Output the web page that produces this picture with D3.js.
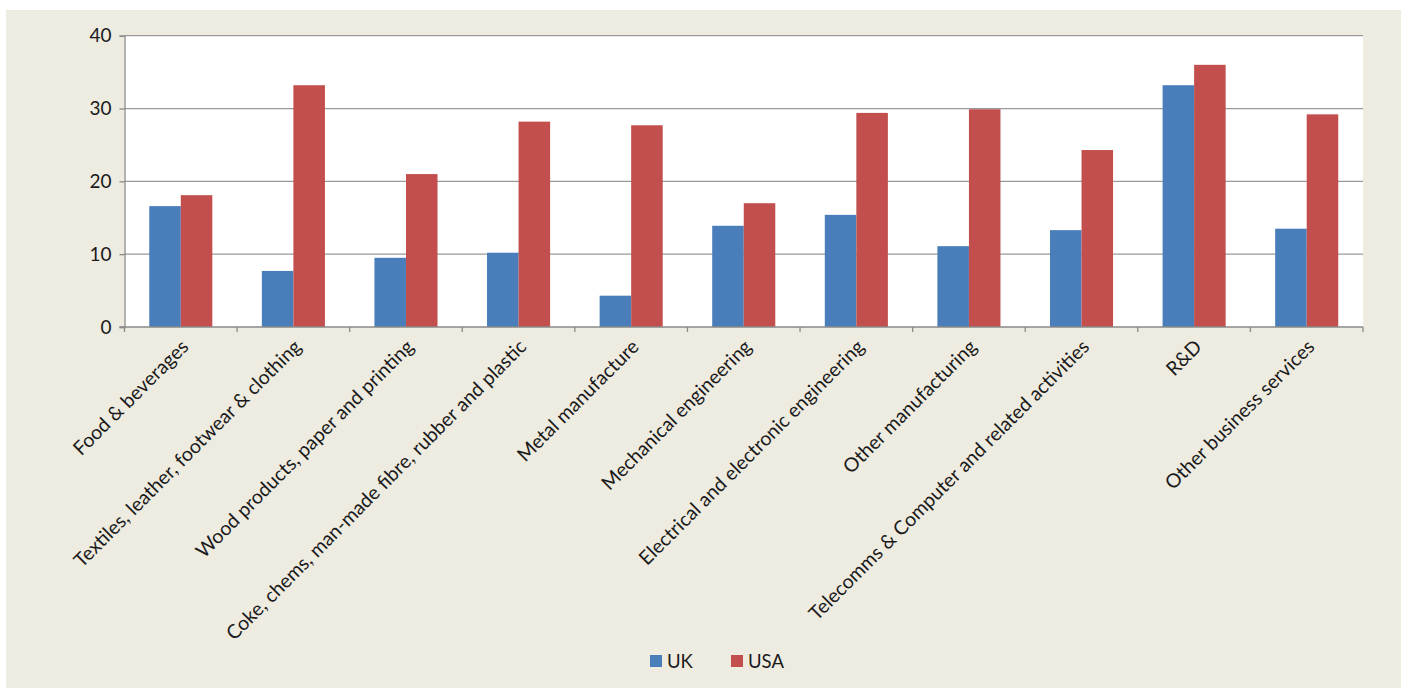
<!DOCTYPE html>
<html>
<head>
<meta charset="utf-8">
<script src="https://cdn.jsdelivr.net/npm/d3@7"></script>
<style>
  html, body { margin: 0; padding: 0; background: #ffffff; }
  svg { display: block; }
  text { font-family: Lato, "Open Sans", sans-serif; fill: #1a1a1a; }
</style>
</head>
<body>
<svg id="chart" width="1405" height="688"></svg>
<script>
const categories = [
  "Food & beverages",
  "Textiles, leather, footwear & clothing",
  "Wood products, paper and printing",
  "Coke, chems, man-made fibre, rubber and plastic",
  "Metal manufacture",
  "Mechanical engineering",
  "Electrical and electronic engineering",
  "Other manufacturing",
  "Telecomms & Computer and related activities",
  "R&D",
  "Other business services"
];
const seriesNames = ["UK", "USA"];
const ukValues  = [16.6, 7.7, 9.5, 10.2, 4.3, 13.9, 15.4, 11.1, 13.3, 33.2, 13.5];
const usaValues = [18.1, 33.2, 21.0, 28.2, 27.7, 17.0, 29.4, 29.9, 24.3, 36.0, 29.2];
const yTicks = [0, 10, 20, 30, 40];

const colors = { UK: "#4A7EBB", USA: "#C24F4D" };

const svg = d3.select("#chart");

// outer beige panel
svg.append("rect").attr("x", 6).attr("y", 10).attr("width", 1395).attr("height", 678).attr("fill", "#EEEBE0");

const m = { left: 124.5, right: 1363, top: 35.7, bottom: 327 };

const x = d3.scaleBand().domain(categories).range([m.left, m.right]).paddingInner(0).paddingOuter(0);
const xs = d3.scaleBand().domain(seriesNames).range([0, x.bandwidth()]).paddingInner(0).paddingOuter(0.785);
const y = d3.scaleLinear().domain([0, 40]).range([m.bottom, m.top]);

// plot area
svg.append("rect").attr("x", m.left).attr("y", m.top).attr("width", m.right - m.left).attr("height", m.bottom - m.top).attr("fill", "#ffffff");

// gridlines
svg.append("g").selectAll("line").data(yTicks.filter(d => d > 0)).join("line")
  .attr("x1", m.left).attr("x2", m.right)
  .attr("y1", d => y(d)).attr("y2", d => y(d))
  .attr("stroke", "#9a9a9a").attr("stroke-width", 1.3);

// bars
const data = categories.map((c, i) => ({ c, UK: ukValues[i], USA: usaValues[i] }));
const groups = svg.append("g").selectAll("g").data(data).join("g")
  .attr("transform", d => `translate(${x(d.c)},0)`);
groups.selectAll("rect").data(d => seriesNames.map(s => ({ s, v: d[s] }))).join("rect")
  .attr("x", d => xs(d.s))
  .attr("y", d => y(d.v))
  .attr("width", xs.bandwidth())
  .attr("height", d => y(0) - y(d.v))
  .attr("fill", d => colors[d.s]);

// y axis
const yAxis = d3.axisLeft(y).tickValues(yTicks).tickSize(5).tickPadding(8).tickFormat(d3.format("d"));
const gy = svg.append("g").attr("transform", `translate(${m.left},0)`).call(yAxis);
gy.select(".domain").attr("stroke", "#8a8a8a").attr("stroke-width", 1.3);
gy.selectAll(".tick line").attr("stroke", "#8a8a8a").attr("stroke-width", 1.3);
gy.selectAll(".tick text").attr("font-size", 19).attr("font-family", "Lato, 'Open Sans', sans-serif").attr("fill", "#1a1a1a");

// x axis line and boundary ticks
svg.append("line").attr("x1", m.left - 5).attr("x2", m.right).attr("y1", m.bottom).attr("y2", m.bottom)
  .attr("stroke", "#8a8a8a").attr("stroke-width", 1.3);
const bounds = categories.map(c => x(c)).concat([x(categories[categories.length - 1]) + x.bandwidth()]);
svg.append("g").selectAll("line").data(bounds).join("line")
  .attr("x1", d => d).attr("x2", d => d)
  .attr("y1", m.bottom).attr("y2", m.bottom + 5)
  .attr("stroke", "#8a8a8a").attr("stroke-width", 1.3);

// category labels rotated -45
svg.append("g").selectAll("text").data(categories).join("text")
  .attr("transform", d => `translate(${x(d) + x.bandwidth() / 2 + 9},${m.bottom + 21}) rotate(-45)`)
  .attr("text-anchor", "end")
  .attr("font-size", 19.5)
  .text(d => d);

// legend
const legend = svg.append("g");
const legendItems = [
  { s: "UK", x: 650 },
  { s: "USA", x: 731 }
];
legend.selectAll("rect").data(legendItems).join("rect")
  .attr("x", d => d.x).attr("y", 655).attr("width", 12).attr("height", 12)
  .attr("fill", d => colors[d.s]);
legend.selectAll("text").data(legendItems).join("text")
  .attr("x", d => d.x + 17).attr("y", 668)
  .attr("font-size", 18.5)
  .text(d => d.s);
</script>
</body>
</html>
